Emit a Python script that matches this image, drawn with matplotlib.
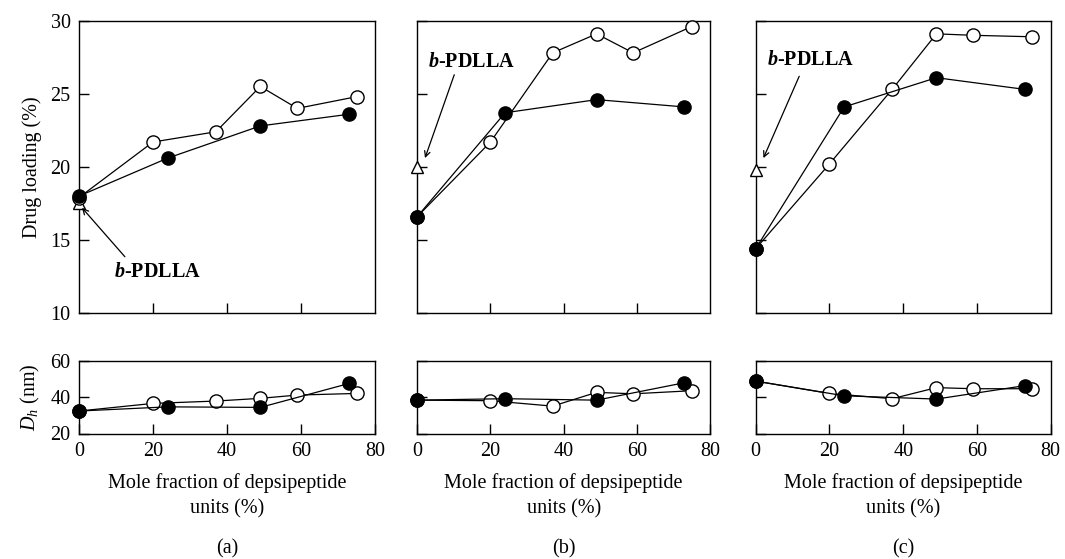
import matplotlib
matplotlib.use('Agg')
import matplotlib.pyplot as plt

plt.rcParams['font.family'] = ['Liberation Serif', 'DejaVu Serif']
plt.rcParams['mathtext.fontset'] = 'custom'
plt.rcParams['mathtext.rm'] = 'Liberation Serif'
plt.rcParams['mathtext.it'] = 'Liberation Serif:italic'
plt.rcParams['mathtext.bf'] = 'Liberation Serif:bold'
plt.rcParams['mathtext.bfit'] = 'Liberation Serif:italic:bold'

# mole fraction of depsipeptide units (%)
x_open = [0, 20, 37, 49, 59, 75]
x_filled = [0, 24, 49, 73]

# drug loading (%)
load_open = {'a': [17.9, 21.7, 22.4, 25.5, 24.0, 24.8],
             'b': [16.6, 21.7, 27.8, 29.1, 27.8, 29.6],
             'c': [14.4, 20.2, 25.3, 29.1, 29.0, 28.9]}
load_filled = {'a': [18.0, 20.6, 22.8, 23.6],
               'b': [16.6, 23.7, 24.6, 24.1],
               'c': [14.4, 24.1, 26.1, 25.3]}
load_pdlla = {'a': 17.5, 'b': 20.0, 'c': 19.8}

# hydrodynamic diameter D_h (nm)
dh_open = {'a': [32.4, 36.6, 37.9, 39.4, 41.2, 42.1],
           'b': [38.4, 38.1, 35.1, 42.7, 41.9, 43.6],
           'c': [48.9, 42.1, 39.2, 45.3, 44.7, 44.7]}
dh_filled = {'a': [32.4, 34.7, 34.4, 47.6],
             'b': [38.4, 39.2, 38.4, 48.0],
             'c': [48.9, 40.8, 39.0, 46.4]}

panels = ['a', 'b', 'c']
# annotation for b-PDLLA: (text xy, arrow tail xy, arrow head xy)
annot = {'a': ((21.2, 12.8), (12.4, 13.85), (0.8, 17.2)),
         'b': ((14.8, 27.2), (10.1, 26.3), (2.1, 20.6)),
         'c': ((14.9, 27.3), (11.8, 26.2), (2.1, 20.6))}

W, H = 1065, 559
fig = plt.figure(figsize=(W / 100, H / 100), dpi=100)

lefts = [79, 417.3, 755.7]
rights = [375, 710, 1050.7]
top_y = (20.7, 313)
bot_y = (361, 433.5)
FS = 14.5

def box(l, r, t, b):
    return [l / W, 1 - b / H, (r - l) / W, (b - t) / H]

def style(ax):
    for s in ax.spines.values():
        s.set_linewidth(1.0)
    ax.tick_params(direction='in', length=7, width=1.0, labelsize=FS, pad=6,
                   top=False, right=False)

mk = dict(markersize=9.5, markeredgewidth=1.0, color='black', linewidth=0.9)

for i, p in enumerate(panels):
    ax = fig.add_axes(box(lefts[i], rights[i], *top_y))
    style(ax)
    ax.plot(0, load_pdlla[p], marker='^', markerfacecolor='white', markeredgecolor='black',
            markersize=9, markeredgewidth=1.0, linestyle='none', clip_on=False, zorder=3)
    ax.plot(x_open, load_open[p], marker='o', markerfacecolor='white', clip_on=False, zorder=4, **mk)
    ax.plot(x_filled, load_filled[p], marker='o', markerfacecolor='black', clip_on=False, zorder=5, **mk)
    ax.set_xlim(0, 80)
    ax.set_ylim(10, 30)
    ax.set_xticks([20, 40, 60])
    ax.set_yticks([10, 15, 20, 25, 30])
    ax.tick_params(labelbottom=False)
    if i == 0:
        ax.set_ylabel('Drug loading (%)', fontsize=FS, labelpad=6)
    else:
        ax.tick_params(labelleft=False)
    txy, tail, head = annot[p]
    ax.annotate('', xy=head, xytext=tail,
                arrowprops=dict(arrowstyle='->', color='black', lw=0.9, shrinkA=0, shrinkB=0))
    ax.text(txy[0], txy[1], r'$\mathbfit{b}$-PDLLA', fontsize=FS, fontweight='bold',
            ha='center', va='center')

    bx = fig.add_axes(box(lefts[i], rights[i], *bot_y))
    style(bx)
    bx.plot(x_open, dh_open[p], marker='o', markerfacecolor='white', clip_on=False, zorder=4, **mk)
    bx.plot(x_filled, dh_filled[p], marker='o', markerfacecolor='black', clip_on=False, zorder=5, **mk)
    bx.set_xlim(0, 80)
    bx.set_ylim(20, 60)
    bx.set_xticks([0, 20, 40, 60, 80])
    bx.set_yticks([20, 40, 60])
    if i == 0:
        bx.set_ylabel(r'$D_h$ (nm)', fontsize=FS, labelpad=6)
    else:
        bx.tick_params(labelleft=False)
    bx.set_xlabel('Mole fraction of depsipeptide\nunits (%)', fontsize=FS, labelpad=9,
                  linespacing=1.45)
    cx = (lefts[i] + rights[i]) / 2 / W
    fig.text(cx, 1 - 549 / H, f'({p})', fontsize=FS, ha='center', va='center')

fig.savefig('out.png', dpi=100)
